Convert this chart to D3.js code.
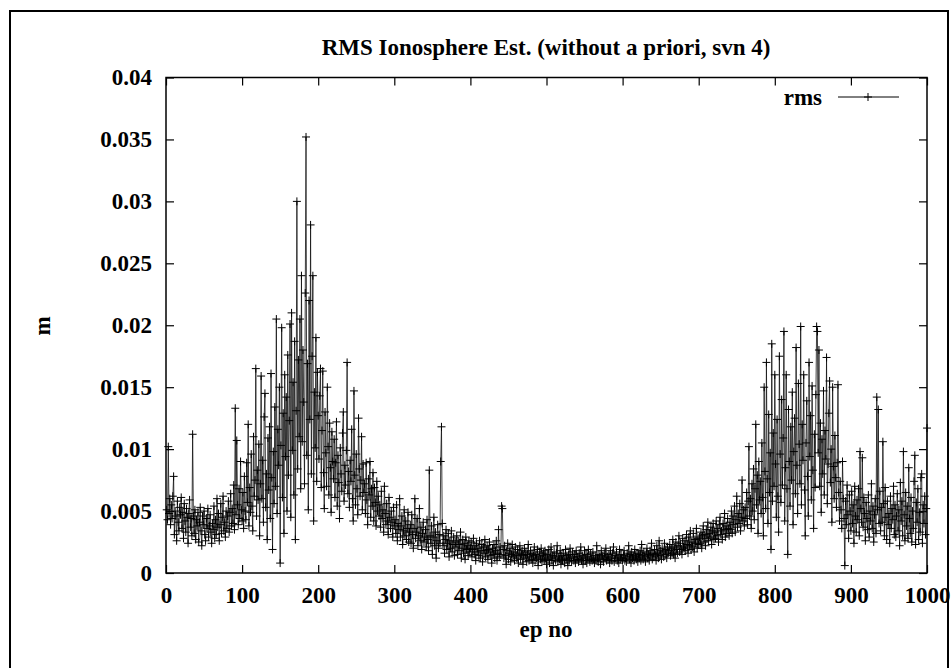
<!DOCTYPE html>
<html>
<head>
<meta charset="utf-8">
<script src="https://cdn.jsdelivr.net/npm/d3@7"></script>
<style>
  html, body { margin: 0; padding: 0; background: #fff; }
  svg { display: block; }
  text { font-family: "Liberation Serif", "Times New Roman", serif; font-weight: bold; font-size: 23px; fill: #000; }
</style>
</head>
<body>
<div id="chart"></div>
<script>
// rms of the ionosphere estimate per epoch, in units of 1e-3 m
const rmsMm = [
  5.1, 4.3, 10.2, 4.8, 6.0, 3.9, 5.5, 4.4, 6.2, 7.8, 3.1, 5.0, 4.6, 2.6, 5.8, 4.1, 3.4, 5.3, 4.7, 6.1,
  3.6, 4.9, 2.8, 5.6, 4.2, 3.3, 5.2, 4.5, 2.4, 4.8, 5.9, 3.7, 4.4, 3.0, 11.2, 4.6, 3.2, 5.1, 2.7, 4.3,
  3.8, 4.9, 2.5, 4.1, 5.3, 3.4, 2.2, 4.6, 3.9, 5.0, 3.1, 2.6, 4.4, 3.6, 5.2, 2.9, 3.8, 4.7, 3.3, 2.4,
  4.0, 3.5, 5.4, 2.8, 4.3, 3.1, 6.0, 3.7, 4.8, 2.6, 3.9, 5.6, 3.2, 4.5, 6.2, 3.4, 4.1, 2.9, 5.0, 3.6,
  4.6, 5.8, 3.3, 4.9, 6.4, 3.8, 5.2, 4.0, 7.1, 3.5, 13.3, 4.7, 10.7, 5.5, 3.9, 6.8, 4.4, 9.0, 5.1, 4.2,
  6.5, 3.6, 7.8, 5.0, 4.3, 8.9, 5.7, 12.0, 3.8, 6.9, 4.9, 9.6, 5.4, 3.4, 11.0, 6.2, 7.5, 16.5, 4.6, 8.3,
  5.9, 10.4, 3.0, 7.2, 15.9, 6.0, 9.1, 4.1, 12.6, 14.5, 5.3, 8.0, 2.7, 10.9, 6.7, 11.8, 4.4, 16.1, 7.7, 1.9,
  9.8, 5.6, 13.4, 7.0, 20.5, 4.8, 11.6, 8.7, 15.0, 0.8, 10.3, 19.8, 6.1, 12.9, 3.2, 16.0, 9.4, 14.2, 5.0, 17.6,
  7.9, 12.3, 20.1, 4.5, 21.0, 9.9, 15.4, 6.3, 18.7, 2.7, 13.1, 30.0, 8.4, 17.2, 11.0, 20.5, 6.8, 24.0, 10.6, 18.0,
  13.8, 7.2, 22.6, 35.2, 9.5, 16.9, 5.1, 22.0, 12.4, 28.1, 8.0, 17.5, 24.0, 4.2, 14.6, 10.1, 19.0, 7.4, 16.2, 12.7,
  9.2, 14.3, 16.5, 6.9, 11.5, 16.3, 8.1, 5.2, 13.0, 9.7, 7.0, 15.0, 10.2, 6.3, 12.1, 8.5, 4.9, 11.4, 9.0, 7.6,
  10.8, 6.1, 8.9, 12.2, 5.4, 9.5, 7.3, 4.4, 10.1, 8.0, 6.6, 11.3, 13.0, 5.8, 8.7, 7.1, 9.9, 17.0, 6.4, 8.2,
  5.3, 9.1, 7.4, 11.6, 6.0, 4.2, 14.7, 7.9, 5.5, 9.6, 6.8, 4.7, 12.5, 8.4, 6.2, 7.5, 11.0, 5.1, 8.8, 6.5,
  7.2, 4.8, 8.9, 5.9, 3.9, 7.6, 6.3, 9.0, 4.5, 6.8, 5.4, 8.1, 4.2, 6.9, 5.7, 3.8, 7.4, 5.0, 6.2, 4.6,
  5.5, 3.7, 6.6, 4.4, 5.1, 3.3, 7.0, 4.8, 3.9, 5.6, 4.2, 3.1, 6.1, 4.5, 3.6, 5.0, 4.1, 2.9, 5.3, 3.8,
  4.3, 3.2, 5.5, 2.6, 4.0, 3.5, 6.0, 2.9, 3.8, 4.6, 2.3, 3.4, 5.1, 3.0, 4.2, 2.7, 3.6, 4.9, 2.5, 3.3,
  3.9, 2.4, 4.7, 3.1, 2.0, 3.6, 6.0, 2.8, 3.3, 4.4, 2.2, 3.0, 5.2, 2.6, 3.7, 1.9, 3.2, 4.1, 2.5, 2.9,
  3.5, 2.1, 4.3, 2.7, 1.8, 8.3, 3.0, 2.4, 3.8, 1.5, 2.9, 4.5, 2.2, 3.3, 1.2, 2.6, 3.9, 2.0, 3.1, 2.4,
  9.0, 11.8, 4.0, 2.2, 3.0, 1.6, 2.7, 3.5, 1.9, 2.4, 3.2, 1.3, 2.6, 2.0, 3.4, 1.7, 2.3, 2.9, 1.4, 2.5,
  2.1, 3.0, 1.5, 2.6, 1.8, 2.3, 3.3, 1.2, 2.0, 2.7, 1.6, 2.4, 1.1, 2.9, 1.9, 2.2, 1.4, 2.6, 1.7, 2.0,
  2.5, 1.3, 1.9, 2.8, 1.5, 2.2, 1.0, 2.4, 1.7, 2.0, 1.4, 2.6, 1.2, 1.8, 2.3, 0.9, 2.1, 1.6, 2.7, 1.3,
  1.8, 2.2, 1.1, 1.9, 2.5, 1.4, 1.7, 0.8, 2.0, 1.5, 2.3, 1.2, 1.8, 2.6, 1.0, 1.6, 3.5, 1.3, 2.1, 1.5,
  5.4, 5.2, 1.9, 1.2, 2.2, 1.4, 0.7, 1.8, 2.4, 1.1, 1.6, 2.0, 0.9, 1.5, 2.3, 1.3, 1.7, 1.0, 2.1, 1.4,
  1.2, 1.9, 0.8, 1.6, 2.2, 1.1, 1.5, 1.8, 0.7, 1.4, 2.0, 1.2, 1.7, 0.9, 1.5, 2.3, 1.0, 1.3, 1.8, 1.1,
  1.6, 0.8, 1.4, 2.1, 1.0, 1.5, 1.2, 1.9, 0.6, 1.3, 1.7, 1.1, 2.0, 0.9, 1.4, 1.6, 1.0, 1.8, 1.2, 0.7,
  1.5, 1.1, 1.9, 0.8, 1.3, 2.1, 1.0, 1.4, 0.6, 1.7, 1.2, 1.0, 1.6, 2.2, 0.9, 1.3, 1.1, 1.8, 0.7, 1.4,
  1.0, 1.6, 1.2, 0.8, 1.9, 1.1, 1.4, 0.6, 1.5, 1.0, 2.0, 1.2, 0.9, 1.7, 1.3, 1.0, 1.5, 0.8, 1.8, 1.1,
  1.3, 0.9, 1.6, 1.1, 2.1, 1.0, 1.4, 0.7, 1.2, 1.8, 1.0, 1.5, 0.8, 1.3, 1.9, 1.1, 0.9, 1.6, 1.2, 1.0,
  1.7, 1.1, 0.8, 1.4, 1.0, 2.2, 1.2, 0.9, 1.5, 1.3, 0.7, 1.8, 1.1, 1.4, 0.9, 1.6, 1.2, 2.0, 1.0, 1.3,
  1.1, 1.5, 0.8, 1.8, 1.2, 1.0, 1.6, 2.1, 0.9, 1.4, 1.2, 1.7, 1.0, 1.3, 0.8, 1.9, 1.1, 1.5, 1.2, 1.0,
  1.4, 1.8, 1.0, 1.2, 0.9, 1.6, 1.3, 2.2, 1.1, 1.5, 0.8, 1.7, 1.2, 1.4, 1.0, 1.9, 1.3, 1.1, 1.6, 0.9,
  1.5, 1.2, 1.8, 1.0, 2.3, 1.4, 1.1, 1.7, 1.3, 0.9, 1.6, 2.0, 1.2, 1.5, 1.0, 1.8, 1.4, 2.4, 1.1, 1.6,
  1.3, 1.9, 1.5, 1.0, 2.2, 1.6, 1.2, 2.6, 1.4, 1.8, 1.1, 2.0, 1.7, 1.3, 2.4, 1.5, 1.9, 1.2, 2.1, 1.6,
  1.8, 2.3, 1.4, 2.0, 1.6, 2.7, 1.5, 2.1, 1.2, 2.5, 1.9, 1.6, 2.2, 3.0, 1.7, 2.4, 1.9, 1.5, 2.8, 2.1,
  2.0, 2.6, 1.8, 3.1, 2.3, 1.6, 2.9, 2.2, 3.4, 1.9, 2.5, 2.1, 3.2, 1.7, 2.7, 2.4, 3.6, 2.0, 2.8, 2.3,
  2.9, 2.4, 3.3, 2.0, 3.0, 3.8, 2.5, 3.1, 2.2, 3.5, 2.8, 4.1, 2.6, 3.2, 2.9, 3.7, 2.3, 3.4, 4.0, 2.7,
  3.3, 2.8, 4.2, 3.0, 3.6, 2.5, 3.9, 4.5, 3.1, 3.4, 2.7, 4.0, 3.5, 4.8, 2.9, 3.8, 3.2, 4.4, 3.6, 3.0,
  4.1, 3.5, 5.0, 3.2, 4.6, 3.9, 5.4, 3.3, 4.3, 6.2, 3.7, 4.8, 4.0, 5.6, 3.4, 4.5, 7.5, 4.2, 5.1, 3.8,
  5.3, 4.4, 6.5, 3.9, 5.8, 10.2, 4.6, 6.0, 3.6, 7.2, 5.0, 8.4, 4.3, 6.8, 12.0, 5.5, 7.9, 3.2, 9.0, 5.9,
  7.4, 4.8, 10.5, 6.1, 3.0, 15.0, 8.2, 5.2, 17.0, 7.6, 4.0, 12.8, 6.5, 9.7, 1.9, 18.5, 5.8, 11.3, 7.0, 16.0,
  8.8, 4.5, 12.4, 6.2, 3.3, 17.5, 9.6, 5.7, 14.0, 7.1, 10.9, 19.5, 4.2, 8.5, 16.0, 6.8, 1.5, 13.2, 9.0, 5.4,
  11.8, 7.5, 14.6, 3.9, 9.8, 12.5, 6.4, 18.2, 8.7, 4.8, 15.3, 10.4, 7.2, 19.9, 5.5, 12.0, 9.1, 16.0, 6.7, 3.0,
  10.5, 13.9, 7.8, 4.6, 17.0, 9.4, 12.7, 5.9, 15.1, 8.3, 3.6, 11.2, 6.9, 14.4, 19.9, 19.5, 9.7, 18.0, 7.0, 12.1,
  4.9, 10.8, 8.0, 14.7, 6.3, 11.5, 9.2, 17.4, 5.6, 8.8, 12.9, 15.5, 7.3, 10.0, 4.1, 15.0, 8.6, 6.0, 11.1, 7.7,
  5.3, 8.9, 15.2, 6.5, 4.2, 7.4, 5.1, 3.6, 9.0, 6.0, 4.4, 0.6, 5.8, 3.9, 7.1, 4.7, 2.8, 6.3, 5.0, 3.4,
  6.6, 4.0, 5.5, 2.4, 7.0, 4.6, 3.3, 5.9, 4.3, 6.8, 3.0, 9.8, 5.2, 4.1, 9.3, 3.7, 6.1, 4.8, 2.6, 5.7,
  4.4, 3.5, 6.3, 2.9, 5.0, 4.2, 7.2, 3.6, 5.4, 2.5, 4.7, 6.0, 3.2, 14.2, 5.1, 13.2, 4.0, 6.6, 3.4, 5.3,
  4.1, 10.6, 5.6, 3.0, 6.9, 4.5, 2.7, 5.8, 3.9, 4.8, 2.4, 6.2, 3.6, 5.2, 4.3, 7.0, 3.1, 5.5, 2.9, 4.6,
  6.4, 3.4, 5.1, 2.2, 7.3, 4.2, 5.8, 3.0, 9.8, 4.7, 2.6, 6.5, 3.8, 5.4, 2.8, 8.5, 4.4, 3.2, 6.1, 2.5,
  5.0, 3.6, 7.4, 9.5, 2.3, 5.7, 4.1, 6.8, 2.7, 4.9, 3.3, 7.7, 8.0, 2.4, 5.5, 4.0, 6.2, 3.1, 5.2, 11.7
];
const epochs = rmsMm.map((d, i) => i + 1);

const xTicks = [0, 100, 200, 300, 400, 500, 600, 700, 800, 900, 1000];
const yTicks = [0, 0.005, 0.01, 0.015, 0.02, 0.025, 0.03, 0.035, 0.04];
const yTickLabels = ["0", "0.005", "0.01", "0.015", "0.02", "0.025", "0.03", "0.035", "0.04"];

const titleText = "RMS Ionosphere Est. (without a priori, svn 4)";
const xLabel = "ep no";
const yLabel = "m";
const seriesName = "rms";

const width = 951, height = 668;
const plot = { left: 166, right: 927, top: 77.5, bottom: 573 };

const svg = d3.select('#chart').append('svg')
  .attr('width', width)
  .attr('height', height);

svg.append('rect')
  .attr('width', width).attr('height', height)
  .attr('fill', '#fff');

// outer frame of the page
svg.append('rect')
  .attr('x', 10).attr('y', 11)
  .attr('width', 938).attr('height', 720)
  .attr('fill', 'none').attr('stroke', '#000').attr('stroke-width', 2);

const x = d3.scaleLinear().domain([0, 1000]).range([plot.left, plot.right]);
const y = d3.scaleLinear().domain([0, 0.04]).range([plot.bottom, plot.top]);

const data = epochs.map((e, i) => ({ ep: e, v: rmsMm[i] / 1000 }));

// axes, ticks pointing inward
const yIdx = new Map(yTicks.map((t, i) => [t, yTickLabels[i]]));
const gLeft = svg.append('g').attr('transform', `translate(${plot.left},0)`)
  .call(d3.axisLeft(y).tickValues(yTicks).tickSize(-8).tickPadding(14).tickFormat(d => yIdx.get(d)));
const gBottom = svg.append('g').attr('transform', `translate(0,${plot.bottom})`)
  .call(d3.axisBottom(x).tickValues(xTicks).tickSize(-8).tickPadding(14).tickFormat(d3.format('d')));
const gRight = svg.append('g').attr('transform', `translate(${plot.right},0)`)
  .call(d3.axisRight(y).tickValues(yTicks).tickSize(-8).tickFormat(''));
const gTop = svg.append('g').attr('transform', `translate(0,${plot.top})`)
  .call(d3.axisTop(x).tickValues(xTicks).tickSize(-8).tickFormat(''));

[gLeft, gBottom, gRight, gTop].forEach(g => {
  g.select('.domain').remove();
  g.selectAll('.tick line').attr('stroke', '#000').attr('stroke-width', 1.2);
  g.selectAll('text').attr('font-family', null).attr('font-size', null).attr('fill', '#000');
});

// plot border
svg.append('rect')
  .attr('x', plot.left).attr('y', plot.top)
  .attr('width', plot.right - plot.left).attr('height', plot.bottom - plot.top)
  .attr('fill', 'none').attr('stroke', '#000').attr('stroke-width', 1.5);

// series: line + crosses
const line = d3.line().x(d => x(d.ep)).y(d => y(d.v));
svg.append('path')
  .datum(data)
  .attr('d', line)
  .attr('fill', 'none')
  .attr('stroke', '#111')
  .attr('stroke-width', 0.8);

const cross = (cx, cy) => `M${cx - 4},${cy}h8M${cx},${cy - 4}v8`;
svg.append('path')
  .attr('d', data.map(d => cross(x(d.ep), y(d.v))).join(''))
  .attr('fill', 'none')
  .attr('stroke', '#000')
  .attr('stroke-width', 1);

// legend
svg.append('text').attr('x', 822).attr('y', 105).attr('text-anchor', 'end').text(seriesName);
svg.append('line').attr('x1', 838).attr('x2', 899).attr('y1', 97).attr('y2', 97)
  .attr('stroke', '#000').attr('stroke-width', 1);
svg.append('path').attr('d', cross(868, 97)).attr('stroke', '#000').attr('stroke-width', 1);

// titles
svg.append('text').attr('x', 546).attr('y', 55).attr('text-anchor', 'middle').text(titleText);
svg.append('text').attr('x', 546).attr('y', 637).attr('text-anchor', 'middle').text(xLabel);
svg.append('text')
  .attr('transform', 'translate(50,326) rotate(-90)')
  .attr('text-anchor', 'middle')
  .text(yLabel);
</script>
</body>
</html>
